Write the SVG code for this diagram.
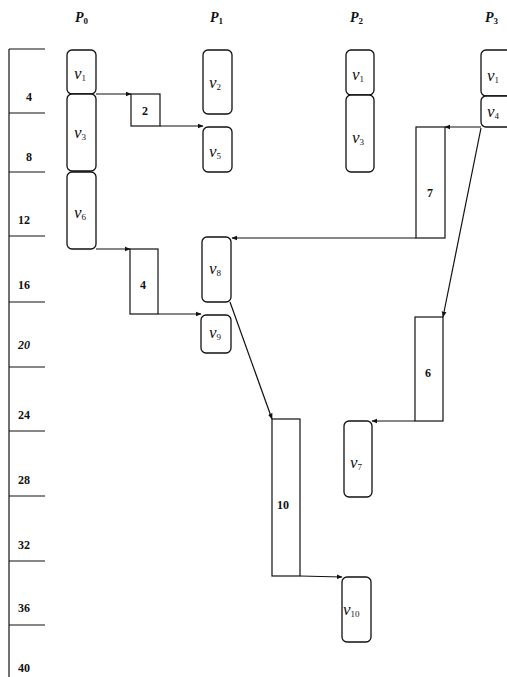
<svg xmlns="http://www.w3.org/2000/svg" width="507" height="677" viewBox="0 0 507 677">
<style>
.ln{stroke:#111;stroke-width:1.2;fill:none}
.nd{stroke:#111;stroke-width:1.3;fill:#fff}
.bx{stroke:#111;stroke-width:1.2;fill:#fff}
.hd{font-family:"Liberation Serif",serif;font-style:italic;font-weight:bold;font-size:14px;fill:#111}
.nl{font-family:"Liberation Serif",serif;font-style:italic;font-size:17px;fill:#111}
.sb{font-size:9px;font-style:normal}
.bl{font-family:"Liberation Serif",serif;font-weight:bold;font-size:12px;fill:#111}
.tl{font-family:"Liberation Serif",serif;font-weight:bold;font-size:12px;fill:#111}
</style>
<defs>
<marker id="ah" viewBox="0 0 10 10" refX="9" refY="5" markerWidth="6" markerHeight="6" orient="auto" markerUnits="userSpaceOnUse">
<path d="M0,1 L10,5 L0,9 z" fill="#111"/>
</marker>
</defs>
<rect width="507" height="677" fill="#fff"/>
<g id="headers">
<text class="hd" x="75" y="22">P<tspan class="sb" dy="2">0</tspan></text>
<text class="hd" x="210" y="22">P<tspan class="sb" dy="2">1</tspan></text>
<text class="hd" x="350" y="22">P<tspan class="sb" dy="2">2</tspan></text>
<text class="hd" x="485" y="22">P<tspan class="sb" dy="2">3</tspan></text>
</g>
<g id="timeline">
<line class="ln" x1="9" y1="49" x2="9" y2="677"/>
<line class="ln" x1="9" y1="49" x2="45" y2="49"/>
<line class="ln" x1="9" y1="113" x2="45" y2="113"/>
<line class="ln" x1="9" y1="172" x2="45" y2="172"/>
<line class="ln" x1="9" y1="236" x2="45" y2="236"/>
<line class="ln" x1="9" y1="302" x2="45" y2="302"/>
<line class="ln" x1="9" y1="367" x2="45" y2="367"/>
<line class="ln" x1="9" y1="431" x2="45" y2="431"/>
<line class="ln" x1="9" y1="496" x2="45" y2="496"/>
<line class="ln" x1="9" y1="561" x2="45" y2="561"/>
<line class="ln" x1="9" y1="625" x2="45" y2="625"/>
<text class="tl" x="26" y="101">4</text>
<text class="tl" x="26" y="161">8</text>
<text class="tl" x="18" y="224">12</text>
<text class="tl" x="18" y="289">16</text>
<text class="tl" x="18" y="349" font-style="italic">20</text>
<text class="tl" x="18" y="419">24</text>
<text class="tl" x="18" y="484">28</text>
<text class="tl" x="18" y="549">32</text>
<text class="tl" x="18" y="612">36</text>
<text class="tl" x="18" y="672">40</text>
</g>
<g id="connectors">
<line class="ln" x1="96" y1="94" x2="131" y2="94" marker-end="url(#ah)"/>
<line class="ln" x1="160" y1="126" x2="203" y2="126" marker-end="url(#ah)"/>
<line class="ln" x1="96" y1="249" x2="130" y2="249" marker-end="url(#ah)"/>
<line class="ln" x1="158" y1="314" x2="201" y2="314" marker-end="url(#ah)"/>
<line class="ln" x1="481" y1="127" x2="445" y2="127" marker-end="url(#ah)"/>
<line class="ln" x1="416" y1="238" x2="232" y2="238" marker-end="url(#ah)"/>
<line class="ln" x1="481" y1="128" x2="443" y2="317" marker-end="url(#ah)"/>
<line class="ln" x1="415" y1="421" x2="372" y2="421" marker-end="url(#ah)"/>
<line class="ln" x1="230" y1="302" x2="272" y2="419" marker-end="url(#ah)"/>
<line class="ln" x1="300" y1="576" x2="342" y2="577" marker-end="url(#ah)"/>
</g>
<g id="box2"><rect class="bx" x="131" y="94" width="29" height="32"/><text class="bl" x="142" y="115">2</text></g>
<g id="box4"><rect class="bx" x="130" y="249" width="28" height="65"/><text class="bl" x="140" y="289">4</text></g>
<g id="box7"><rect class="bx" x="416" y="127" width="29" height="111"/><text class="bl" x="427" y="197">7</text></g>
<g id="box6"><rect class="bx" x="415" y="317" width="28" height="104"/><text class="bl" x="425" y="377">6</text></g>
<g id="box10"><rect class="bx" x="272" y="419" width="28" height="157"/><text class="bl" x="277" y="509">10</text></g>
<g id="p0v1"><rect class="nd" x="67" y="50" width="29" height="44" rx="5"/><text class="nl" x="74" y="79">v<tspan class="sb" dy="2">1</tspan></text></g>
<g id="p0v3"><rect class="nd" x="67" y="94" width="29" height="77" rx="5"/><text class="nl" x="74" y="138">v<tspan class="sb" dy="2">3</tspan></text></g>
<g id="p0v6"><rect class="nd" x="67" y="172" width="29" height="77" rx="5"/><text class="nl" x="74" y="218">v<tspan class="sb" dy="2">6</tspan></text></g>
<g id="p1v2"><rect class="nd" x="203" y="50" width="29" height="64" rx="5"/><text class="nl" x="209" y="88">v<tspan class="sb" dy="2">2</tspan></text></g>
<g id="p1v5"><rect class="nd" x="203" y="127" width="29" height="45" rx="5"/><text class="nl" x="209" y="157">v<tspan class="sb" dy="2">5</tspan></text></g>
<g id="p1v8"><rect class="nd" x="202" y="237" width="29" height="65" rx="5"/><text class="nl" x="209" y="274">v<tspan class="sb" dy="2">8</tspan></text></g>
<g id="p1v9"><rect class="nd" x="201" y="315" width="30" height="38" rx="5"/><text class="nl" x="209" y="338">v<tspan class="sb" dy="2">9</tspan></text></g>
<g id="p2v1"><rect class="nd" x="346" y="50" width="28" height="45" rx="5"/><text class="nl" x="352" y="80">v<tspan class="sb" dy="2">1</tspan></text></g>
<g id="p2v3"><rect class="nd" x="346" y="95" width="28" height="77" rx="5"/><text class="nl" x="352" y="143">v<tspan class="sb" dy="2">3</tspan></text></g>
<g id="p3v1"><rect class="nd" x="481" y="50" width="32" height="46" rx="5"/><text class="nl" x="487" y="81">v<tspan class="sb" dy="2">1</tspan></text></g>
<g id="p3v4"><rect class="nd" x="481" y="96" width="32" height="31" rx="5"/><text class="nl" x="487" y="117">v<tspan class="sb" dy="2">4</tspan></text></g>
<g id="p2v7"><rect class="nd" x="344" y="421" width="28" height="76" rx="5"/><text class="nl" x="350" y="468">v<tspan class="sb" dy="2">7</tspan></text></g>
<g id="p2v10"><rect class="nd" x="342" y="577" width="29" height="65" rx="5"/><text class="nl" x="343" y="615">v<tspan class="sb" dy="2">10</tspan></text></g>
</svg>
